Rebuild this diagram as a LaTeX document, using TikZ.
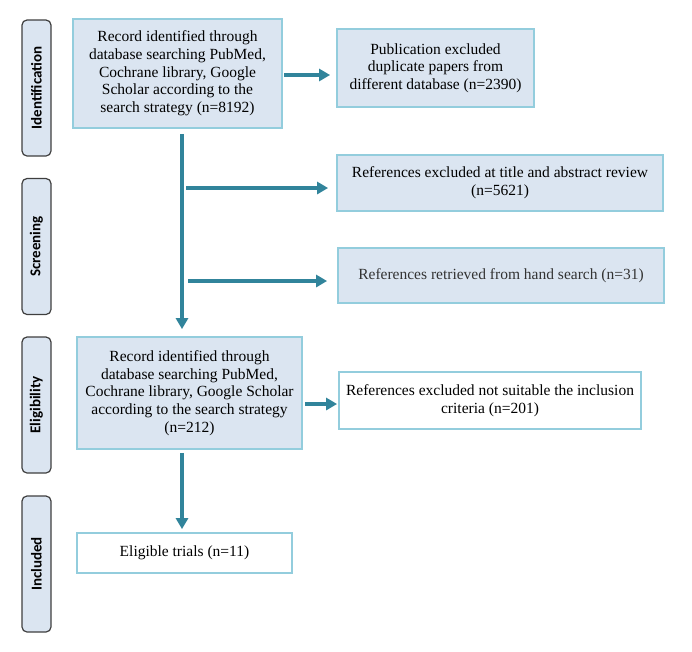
\documentclass[tikz,border=0pt]{standalone}
\usepackage{fontspec}
\setmainfont{Liberation Serif}
\newfontfamily\labelfont{Carlito}
\usetikzlibrary{arrows.meta,calc}
\definecolor{boxfill}{HTML}{DBE5F1}
\definecolor{boxedge}{HTML}{93CDDD}
\definecolor{arrowcol}{HTML}{31849B}
\definecolor{phaseedge}{HTML}{3F3F3F}
\definecolor{softtext}{HTML}{333333}
\begin{document}
\begin{tikzpicture}[x=1pt,y=-1pt,
  box/.style={draw=boxedge, line width=1.8pt, fill=boxfill, align=center,
    font=\fontsize{15.5}{17.7}\selectfont, inner sep=0pt},
  wbox/.style={box, fill=white},
  phase/.style={draw=phaseedge, line width=1.2pt, fill=boxfill, rounded corners=5pt,
    rotate=90, minimum width=136pt, minimum height=29pt, inner sep=0pt,
    font=\labelfont\bfseries\fontsize{15}{18}\selectfont},
  arr/.style={draw=arrowcol, line width=4pt, -{Triangle[length=11pt,width=12pt]}},
]
\useasboundingbox (0,0) rectangle (692,651);

% phase labels
\node[phase] (p1) at (36.5,88) {Identification};
\node[phase] (p2) at (36.5,246.5) {Screening};
\node[phase] (p3) at (36.5,405) {Eligibility};
\node[phase] (p4) at (36.5,564) {Included};

% boxes
\node[box, minimum width=209pt, minimum height=109pt] (b1) at (177.5,73.5)
  {Record identified through\\database searching PubMed,\\Cochrane library, Google\\Scholar according to the\\search strategy (n=8192)};
\node[box, minimum width=197pt, minimum height=78pt] (b2) at (435.5,68)
  {Publication excluded\\duplicate papers from\\different database (n=2390)};
\node[box, minimum width=326pt, minimum height=56pt] (b3) at (500,183)
  {References excluded at title and abstract review\\(n=5621)};
\node[box, minimum width=326pt, minimum height=55pt, text=softtext] (b4) at (501,275.5)
  {References retrieved from hand search (n=31)};
\node[box, minimum width=225pt, minimum height=112pt] (r2) at (189.5,393)
  {Record identified through\\database searching PubMed,\\Cochrane library, Google Scholar\\according to the search strategy\\(n=212)};
\node[wbox, minimum width=302pt, minimum height=57pt] (b5) at (490,400.5)
  {References excluded not suitable the inclusion\\criteria (n=201)};
\node[wbox, minimum width=215pt, minimum height=40pt] (b6) at (184.5,553)
  {Eligible trials (n=11)};

% connectors
\coordinate (trunk) at (182,0);
\coordinate (a0) at (284,75);
\coordinate (a1) at (186,188);
\coordinate (a2) at (188,281);
\coordinate (a3) at (305,404);

\draw[arr, shorten >=6pt] (a0) -- (a0 -| b2.west);
\draw[arr, shorten <=5pt, shorten >=7pt] (b1.south -| trunk) -- (r2.north -| trunk);
\draw[arr, shorten >=8pt] (a1) -- (a1 -| b3.west);
\draw[arr, shorten >=10pt] (a2) -- (a2 -| b4.west);
\draw[arr, shorten >=1pt] (a3) -- (a3 -| b5.west);
\draw[arr, shorten <=3pt, shorten >=3pt] (r2.south -| trunk) -- (b6.north -| trunk);
\end{tikzpicture}
\end{document}
